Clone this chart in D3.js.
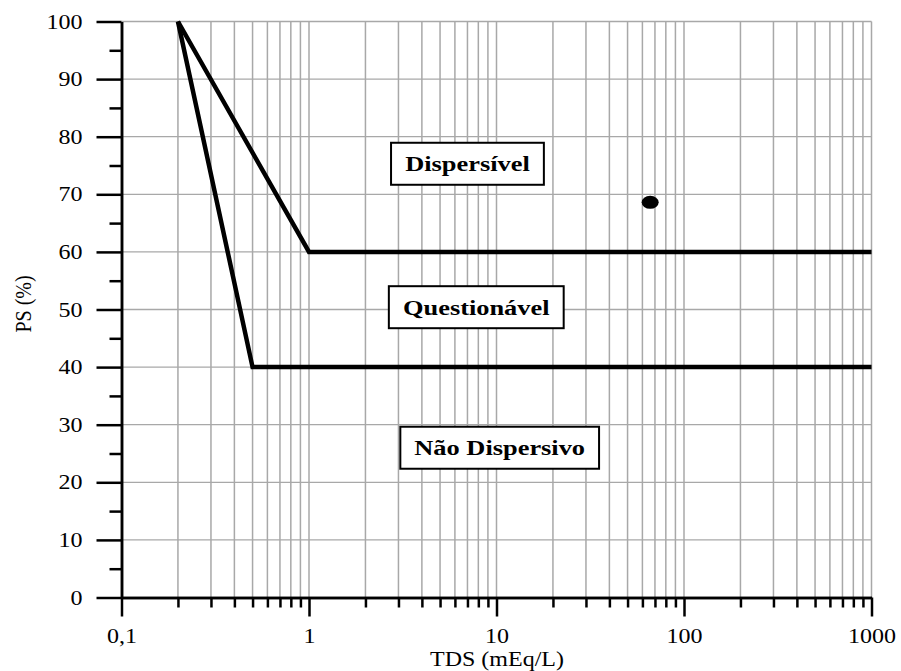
<!DOCTYPE html>
<html>
<head>
<meta charset="utf-8">
<script src="https://cdn.jsdelivr.net/npm/d3@7"></script>
<style>
  html, body { margin: 0; padding: 0; background: #fff; }
  svg { display: block; }
  text { font-family: "Liberation Serif", "Times New Roman", serif; fill: #000; }
</style>
</head>
<body>
<svg id="chart" width="901" height="671"></svg>
<script>
// Dispersion criterion chart: percent sodium (PS) against total dissolved salts (TDS)
const xMajorTicks = [0.1, 1, 10, 100, 1000];
const xTickLabels = ["0,1", "1", "10", "100", "1000"];
const yMajorTicks = [0, 10, 20, 30, 40, 50, 60, 70, 80, 90, 100];
const yMinorTicks = [5, 15, 25, 35, 45, 55, 65, 75, 85, 95];

// Boundary lines between the zones
const upperBoundaryTDS = [0.2, 1, 1000];
const upperBoundaryPS  = [100, 60, 60];
const lowerBoundaryTDS = [0.2, 0.5, 1000];
const lowerBoundaryPS  = [100, 40, 40];

// Sample point
const sampleTDS = [66];
const samplePS  = [68.6];

// Zone labels
const zoneNames = ["Dispersível", "Questionável", "Não Dispersivo"];
const zoneTDS   = [7.0, 7.8, 10.4];
const zonePS    = [75.3, 50.4, 26.0];

const STRETCH = 1.2;   // horizontal stretch applied to all lettering

const svg = d3.select("#chart");
const x = d3.scaleLog().domain([0.1, 1000]).range([121.5, 871.5]);
const y = d3.scaleLinear().domain([0, 100]).range([597.5, 21.5]);

// minor x values 2..9 in each decade
const xMinorTicks = [];
xMajorTicks.slice(0, -1).forEach(d => {
  for (let k = 2; k <= 9; k++) xMinorTicks.push(+(d * k).toPrecision(3));
});

// grid
const grid = svg.append("g");
grid.selectAll("line.v")
  .data(xMinorTicks.concat(xMajorTicks.slice(1)))
  .join("line")
  .attr("x1", d => x(d)).attr("x2", d => x(d))
  .attr("y1", y(100)).attr("y2", y(0))
  .attr("stroke", "#a8a8a8").attr("stroke-width", 1.5);
grid.selectAll("line.h")
  .data(yMajorTicks.slice(1))
  .join("line")
  .attr("x1", x(0.1)).attr("x2", x(1000))
  .attr("y1", d => y(d)).attr("y2", d => y(d))
  .attr("stroke", "#a8a8a8").attr("stroke-width", 1.3);

// axes
function styleAxis(g) {
  g.select(".domain").attr("stroke", "#000").attr("stroke-width", 2.5);
  g.selectAll(".tick line").attr("stroke", "#000").attr("stroke-width", 2.5);
}

const xMinorAxis = d3.axisBottom(x).tickValues(xMinorTicks).tickSize(10).tickSizeOuter(0).tickFormat("");
const xMajorAxis = d3.axisBottom(x).tickValues(xMajorTicks).tickSize(19).tickSizeOuter(0)
  .tickFormat((d, i) => xTickLabels[i]);
svg.append("g").attr("transform", `translate(0,${y(0)})`).call(xMinorAxis).call(styleAxis);
const gx = svg.append("g").attr("transform", `translate(0,${y(0)})`).call(xMajorAxis).call(styleAxis);
gx.selectAll(".tick text")
  .attr("y", 46).attr("dy", null)
  .attr("transform", `scale(${STRETCH},1)`)
  .style("font-size", "20px").style("font-family", "Liberation Serif").attr("fill", "#000");

const yMinorAxis = d3.axisLeft(y).tickValues(yMinorTicks).tickSize(12).tickSizeOuter(0).tickFormat("");
const yMajorAxis = d3.axisLeft(y).tickValues(yMajorTicks).tickSize(25).tickSizeOuter(0);
svg.append("g").attr("transform", `translate(${x(0.1)},0)`).call(yMinorAxis).call(styleAxis);
const gy = svg.append("g").attr("transform", `translate(${x(0.1)},0)`).call(yMajorAxis).call(styleAxis);
gy.selectAll(".tick text")
  .attr("x", -39 / STRETCH).attr("dy", "0.33em")
  .attr("transform", `scale(${STRETCH},1)`)
  .style("font-size", "20px").style("font-family", "Liberation Serif").attr("fill", "#000");

// boundary lines
const line = d3.line().x(d => x(d[0])).y(d => y(d[1]));
[[upperBoundaryTDS, upperBoundaryPS], [lowerBoundaryTDS, lowerBoundaryPS]].forEach(([xs, ys]) => {
  svg.append("path")
    .datum(xs.map((v, i) => [v, ys[i]]))
    .attr("d", line)
    .attr("fill", "none").attr("stroke", "#000")
    .attr("stroke-width", 4.5).attr("stroke-linejoin", "miter");
});

// sample point
svg.selectAll("ellipse.pt")
  .data(sampleTDS.map((v, i) => [v, samplePS[i]]))
  .join("ellipse")
  .attr("cx", d => x(d[0])).attr("cy", d => y(d[1]))
  .attr("rx", 8.5).attr("ry", 6.5).attr("fill", "#000");

// zone labels in boxes
zoneNames.forEach((name, i) => {
  const cx = x(zoneTDS[i]), cy = y(zonePS[i]);
  const g = svg.append("g");
  const rect = g.append("rect");
  const t = g.append("text")
    .attr("text-anchor", "middle")
    .attr("transform", `translate(${cx},${cy + 7.5}) scale(${STRETCH},1)`)
    .style("font-size", "22px").style("font-weight", "bold")
    .text(name);
  const w = t.node().getBBox().width * STRETCH;
  rect.attr("x", cx - w / 2 - 14).attr("y", cy - 21)
    .attr("width", w + 28).attr("height", 42)
    .attr("fill", "#fff").attr("stroke", "#000").attr("stroke-width", 2);
});

// axis titles
svg.append("text")
  .attr("text-anchor", "middle")
  .attr("transform", `translate(497,666) scale(${STRETCH},1)`)
  .style("font-size", "20px")
  .text("TDS (mEq/L)");
svg.append("text")
  .attr("text-anchor", "middle")
  .attr("transform", `translate(31,304) scale(${STRETCH},1) rotate(-90)`)
  .style("font-size", "20px")
  .text("PS (%)");
</script>
</body>
</html>
